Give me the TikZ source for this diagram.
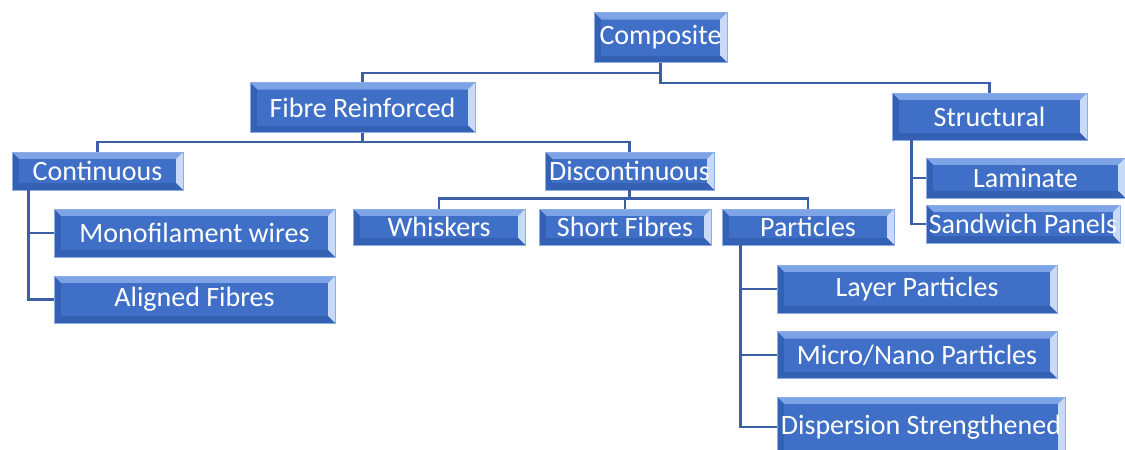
\documentclass[tikz,border=0pt]{standalone}
\usepackage{fontspec}
\setmainfont{Carlito}
\definecolor{boxblue}{HTML}{3F6FC6}
\definecolor{boxtop}{HTML}{7EA3E6}
\definecolor{boxdark}{HTML}{3461B3}
\definecolor{boxlight}{HTML}{C9DAF7}
\definecolor{boxedge}{HTML}{8DADE6}
\definecolor{linkblue}{HTML}{3B5FA6}
\tikzset{
  box/.style={rectangle, fill=boxblue, draw=boxedge, line width=0.6pt, text=white,
    font=\fontsize{28}{32}\selectfont, inner sep=0pt, anchor=center,
    path picture={
      \fill[boxtop] (path picture bounding box.north west) -- (path picture bounding box.north east)
        -- ([shift={(-7pt,-7pt)}]path picture bounding box.north east)
        -- ([shift={(7pt,-7pt)}]path picture bounding box.north west) -- cycle;
      \fill[boxdark] (path picture bounding box.north west)
        -- ([shift={(7pt,-7pt)}]path picture bounding box.north west)
        -- ([shift={(7pt,7pt)}]path picture bounding box.south west)
        -- (path picture bounding box.south west) -- cycle;
      \fill[boxlight] (path picture bounding box.north east)
        -- ([shift={(-7pt,-7pt)}]path picture bounding box.north east)
        -- ([shift={(-7pt,7pt)}]path picture bounding box.south east)
        -- (path picture bounding box.south east) -- cycle;
      \fill[boxdark] (path picture bounding box.south west)
        -- ([shift={(7pt,7pt)}]path picture bounding box.south west)
        -- ([shift={(-7pt,7pt)}]path picture bounding box.south east)
        -- (path picture bounding box.south east) -- cycle;
      \fill[boxblue] ([shift={(7pt,-7pt)}]path picture bounding box.north west)
        rectangle ([shift={(-7pt,7pt)}]path picture bounding box.south east);
    }},
  conn/.style={draw=linkblue, line width=2.6pt}
}
\begin{document}
\begin{tikzpicture}[x=1pt,y=-1pt]
\useasboundingbox (0,0) rectangle (1125,450);
% boxes (centre, width, height in px)
\node[box, minimum width=133, minimum height=50] (comp) at (660.5,37.5) {Composite};
\node[box, minimum width=225, minimum height=50] (fibre) at (362.5,107.5) {Fibre Reinforced};
\node[box, minimum width=195, minimum height=47] (struct) at (989.5,116.5) {Structural};
\node[box, minimum width=171, minimum height=38] (cont) at (97.5,171) {Continuous};
\node[box, minimum width=169, minimum height=38] (disc) at (629.5,171) {Discontinuous};
\node[box, minimum width=281, minimum height=48] (mono) at (194.5,233) {Monofilament wires};
\node[box, minimum width=281, minimum height=47] (align) at (194.5,299.5) {Aligned Fibres};
\node[box, minimum width=172, minimum height=36] (whisk) at (439,227) {Whiskers};
\node[box, minimum width=172, minimum height=36] (short) at (625,227) {Short Fibres};
\node[box, minimum width=172, minimum height=36] (part) at (808,227) {Particles};
\node[box, minimum width=199, minimum height=40] (lam) at (1025.5,178) {Laminate};
\node[box, minimum width=194, minimum height=38] (sand) at (1023,224) {Sandwich Panels};
\node[box, minimum width=280, minimum height=48] (layer) at (917,289) {Layer Particles};
\node[box, minimum width=280, minimum height=47] (micro) at (917,355) {Micro/Nano Particles};
\node[box, minimum width=288, minimum height=60] (disp) at (921,427) {Dispersion Strengthened};
% connectors
\draw[conn] (comp.south) -- ++(0,10) -| (fibre.north);
\draw[conn] (comp.south) -- ++(0,20) -| (struct.north);
\draw[conn] (fibre.south) -- ++(0,9) -| (cont.north);
\draw[conn] (fibre.south) -- ++(0,9) -| (disc.north);
\draw[conn] ([xshift=17pt]cont.south west) |- (mono.west);
\draw[conn] ([xshift=17pt]cont.south west) |- (align.west);
\draw[conn] (disc.south) -- ++(0,8) -| (whisk.north);
\draw[conn] (disc.south) -- ++(0,8) -| (short.north);
\draw[conn] (disc.south) -- ++(0,8) -| (part.north);
\draw[conn] ([xshift=19pt]part.south west) |- (layer.west);
\draw[conn] ([xshift=19pt]part.south west) |- (micro.west);
\draw[conn] ([xshift=19pt]part.south west) |- (disp.west);
\draw[conn] ([xshift=20pt]struct.south west) |- (lam.west);
\draw[conn] ([xshift=20pt]struct.south west) |- (sand.west);
\end{tikzpicture}
\end{document}
